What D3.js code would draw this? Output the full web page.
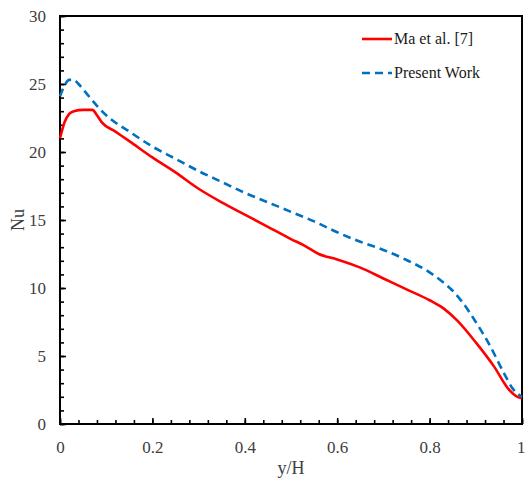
<!DOCTYPE html>
<html>
<head>
<meta charset="utf-8">
<script src="https://cdn.jsdelivr.net/npm/d3@7/dist/d3.min.js"></script>
<style>
  html, body { margin: 0; padding: 0; background: #fff; }
  svg { display: block; }
</style>
</head>
<body>
<svg id="chart" width="525" height="481"></svg>
<script>
// Nusselt number along the wall, y/H from 0 to 1
const maX  = [0, 0.01, 0.02, 0.03, 0.05, 0.07, 0.08, 0.09, 0.12, 0.15, 0.2, 0.25, 0.3, 0.35, 0.4, 0.45, 0.5, 0.53, 0.56, 0.6, 0.65, 0.7, 0.75, 0.8, 0.83, 0.86, 0.9, 0.94, 0.97, 0.99, 1.0];
const maNu = [21.0, 22.2, 22.8, 23.0, 23.1, 23.1, 22.7, 22.2, 21.5, 20.8, 19.6, 18.5, 17.3, 16.3, 15.4, 14.5, 13.6, 13.1, 12.5, 12.1, 11.5, 10.7, 9.9, 9.1, 8.5, 7.6, 6.0, 4.2, 2.6, 2.0, 1.9];

const presentX  = [0, 0.01, 0.02, 0.03, 0.04, 0.06, 0.08, 0.1, 0.15, 0.2, 0.25, 0.3, 0.35, 0.4, 0.45, 0.5, 0.55, 0.6, 0.65, 0.7, 0.75, 0.8, 0.83, 0.85, 0.87, 0.9, 0.93, 0.96, 0.98, 1.0];
const presentNu = [24.1, 24.9, 25.3, 25.3, 25.0, 24.2, 23.4, 22.7, 21.5, 20.4, 19.5, 18.6, 17.8, 17.0, 16.3, 15.6, 14.9, 14.1, 13.4, 12.8, 12.06, 11.15, 10.4, 9.8, 9.0, 7.5, 5.8, 3.8, 2.6, 2.0];

const xTickLabels = [0, 0.2, 0.4, 0.6, 0.8, 1];
const yTickLabels = [0, 5, 10, 15, 20, 25, 30];
const seriesNames = ["Ma et al. [7]", "Present Work"];

const serif = "'Liberation Serif', 'Times New Roman', serif";
const svg = d3.select("#chart").style("font-family", serif);
const plotLeft = 60, plotRight = 522, plotTop = 16, plotBottom = 424;

const x = d3.scaleLinear().domain([0, 1]).range([plotLeft, plotRight]);
const y = d3.scaleLinear().domain([0, 30]).range([plotBottom, plotTop]);

const labelColor = "#404040";

// Inward minor ticks
const xMinor = d3.range(0, 1.0001, 0.04);
const yMinor = d3.range(0, 30.0001, 1);

const gx = svg.append("g").attr("transform", `translate(0,${plotBottom})`)
  .call(d3.axisBottom(x).tickValues(xMinor).tickSize(-4).tickFormat(""));
const gy = svg.append("g").attr("transform", `translate(${plotLeft},0)`)
  .call(d3.axisLeft(y).tickValues(yMinor).tickSize(-4).tickFormat(""));
[gx, gy].forEach(g => {
  g.select(".domain").remove();
  g.selectAll(".tick line").attr("stroke", "#000").attr("stroke-width", 1.6);
});

// Tick labels
const gxl = svg.append("g").attr("transform", `translate(0,${plotBottom})`)
  .call(d3.axisBottom(x).tickValues(xTickLabels).tickSize(-6).tickPadding(17).tickFormat(d3.format("")));
const gyl = svg.append("g").attr("transform", `translate(${plotLeft},0)`)
  .call(d3.axisLeft(y).tickValues(yTickLabels).tickSize(-6).tickPadding(14).tickFormat(d3.format("")));
[gxl, gyl].forEach(g => {
  g.attr("font-family", null).attr("font-size", null);
  g.select(".domain").remove();
  g.selectAll(".tick line").attr("stroke", "#000").attr("stroke-width", 1.6);
  g.selectAll(".tick text")
    .style("font-family", serif)
    .style("font-size", "17px").attr("fill", labelColor);
});
// keep the last x label inside the canvas edge
gxl.selectAll(".tick text").filter(d => d === 1)
  .attr("text-anchor", "end").attr("dx", "3px");

// Frame
svg.append("rect")
  .attr("x", plotLeft).attr("y", plotTop)
  .attr("width", plotRight - plotLeft).attr("height", plotBottom - plotTop)
  .attr("fill", "none").attr("stroke", "#000").attr("stroke-width", 2);

// Axis titles
svg.append("text")
  .attr("x", (plotLeft + plotRight) / 2).attr("y", 474)
  .attr("text-anchor", "middle").style("font-size", "18px").attr("fill", labelColor)
  .text("y/H");
svg.append("text")
  .attr("transform", `translate(24,${(plotTop + plotBottom) / 2}) rotate(-90)`)
  .attr("text-anchor", "middle").style("font-size", "18px").attr("fill", labelColor)
  .text("Nu");

// Curves
const line = d3.line().x(d => x(d[0])).y(d => y(d[1])).curve(d3.curveMonotoneX);
const plot = svg.append("g");
plot.append("path")
  .datum(maX.map((v, i) => [v, maNu[i]]))
  .attr("d", line).attr("fill", "none")
  .attr("stroke", "#FF0000").attr("stroke-width", 2.6)
  .attr("stroke-linejoin", "round");
plot.append("path")
  .datum(presentX.map((v, i) => [v, presentNu[i]]))
  .attr("d", line).attr("fill", "none")
  .attr("stroke", "#0070C0").attr("stroke-width", 2.6)
  .attr("stroke-dasharray", "8,5");

// Legend
const legend = svg.append("g");
const styles = [
  { color: "#FF0000", dash: null },
  { color: "#0070C0", dash: "8,5" }
];
seriesNames.forEach((name, i) => {
  const ly = 39 + i * 34;
  legend.append("line")
    .attr("x1", 362).attr("x2", 392).attr("y1", ly).attr("y2", ly)
    .attr("stroke", styles[i].color).attr("stroke-width", 2.6)
    .attr("stroke-dasharray", styles[i].dash);
  legend.append("text")
    .attr("x", 394).attr("y", ly + 5)
    .style("font-size", "16px").attr("fill", "#1a1a1a")
    .text(name);
});
</script>
</body>
</html>
